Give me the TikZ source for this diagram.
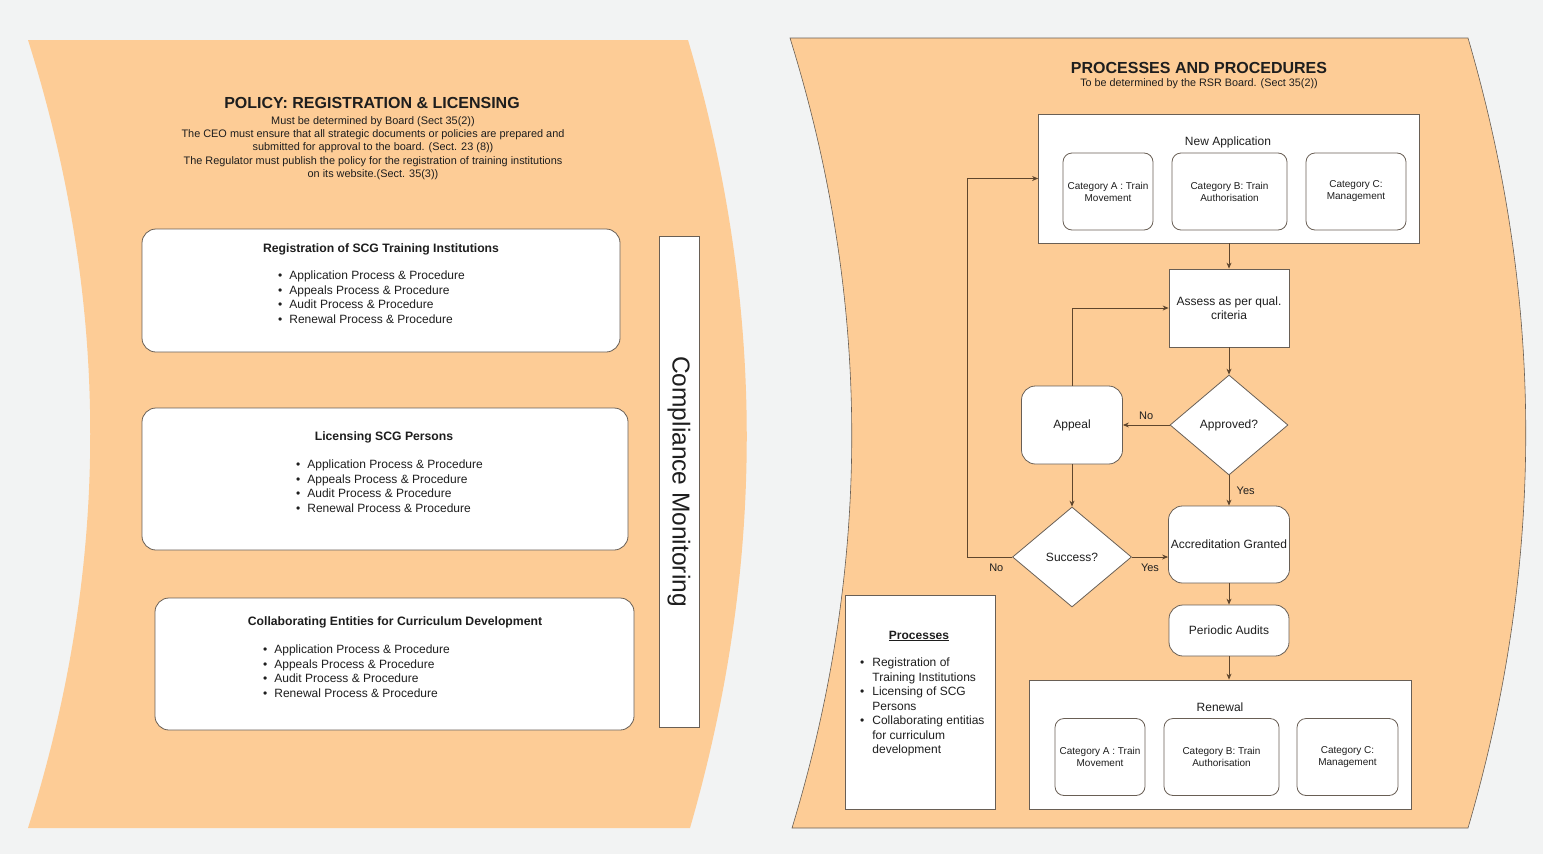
\documentclass[tikz,border=0pt]{standalone}
\usepackage{fontspec}
\setmainfont{Liberation Sans}
\usetikzlibrary{shapes.geometric, arrows.meta}

\definecolor{pageorange}{RGB}{253,204,150}
\definecolor{backgrey}{RGB}{242,243,243}
\definecolor{lineedge}{RGB}{105,95,85}
\definecolor{flowline}{RGB}{95,70,45}
\definecolor{inktext}{RGB}{30,30,30}

\begin{document}
\begin{tikzpicture}[x=1pt, y=-1pt, >={Stealth[length=6pt, width=5pt]},
                every node/.style={font=\fontsize{12}{14.5}\selectfont, text=inktext},
                roundbox/.style={draw=lineedge, line width=0.8pt, fill=white, rounded corners=14pt, inner sep=0pt},
                plainbox/.style={draw=lineedge, line width=0.8pt, fill=white, inner sep=0pt},
                catbox/.style={draw=lineedge, line width=0.8pt, fill=white, rounded corners=9pt, inner sep=0pt,
                               align=center, font=\fontsize{10}{12}\selectfont, minimum height=77pt},
                decision/.style={diamond, draw=lineedge, line width=0.8pt, fill=white, inner sep=0pt,
                                 minimum width=118pt, minimum height=100pt},
                flow/.style={->, draw=flowline, line width=0.8pt},
                flowlabel/.style={font=\fontsize{11}{13}\selectfont},
                bullets/.style={align=left, inner sep=0pt, anchor=west}]

                % Background and the two pages
                \useasboundingbox (0,0) rectangle (1543,854);
                \fill[backgrey] (0,0) rectangle (1543,854);
                \fill[pageorange] (28,40) -- (688,40) .. controls (766,303) and (766,565) .. (690,828)
                        -- (28,828) .. controls (111,565) and (111,303) .. (28,40) -- cycle;
                \filldraw[fill=pageorange, draw=lineedge, line width=0.6pt] (790,38) -- (1468,38)
                        .. controls (1545,301) and (1545,565) .. (1468,828)
                        -- (792,828) .. controls (872,565) and (872,301) .. (790,38) -- cycle;

                % Policy page
                \node[font=\bfseries\fontsize{16}{19}\selectfont] (policytitle) at (372,103) {POLICY: REGISTRATION \& LICENSING};
                \node[font=\fontsize{10.9}{13.2}\selectfont, align=center] (policynote) at (373,148)
                        {Must be determined by Board (Sect 35(2))\\
                         The CEO must ensure that all strategic documents or policies are prepared and\\
                         submitted for approval to the board. (Sect. 23 (8))\\
                         The Regulator must publish the policy for the registration of training institutions\\
                         on its website.(Sect. 35(3))};

                \node[roundbox, minimum width=478pt, minimum height=123pt] (registration) at (381,290.5) {};
                \node[font=\bfseries\fontsize{12.2}{14}\selectfont] (registrationtitle) at (381,249) {Registration of SCG Training Institutions};
                \node[bullets] (registrationlist) at (278,297)
                        {\textbullet\hspace{7pt}Application Process \& Procedure\\
                         \textbullet\hspace{7pt}Appeals Process \& Procedure\\
                         \textbullet\hspace{7pt}Audit Process \& Procedure\\
                         \textbullet\hspace{7pt}Renewal Process \& Procedure};

                \node[roundbox, minimum width=486pt, minimum height=142pt] (licensing) at (385,479) {};
                \node[font=\bfseries\fontsize{12.2}{14}\selectfont] (licensingtitle) at (384,437) {Licensing SCG Persons};
                \node[bullets] (licensinglist) at (296,486)
                        {\textbullet\hspace{7pt}Application Process \& Procedure\\
                         \textbullet\hspace{7pt}Appeals Process \& Procedure\\
                         \textbullet\hspace{7pt}Audit Process \& Procedure\\
                         \textbullet\hspace{7pt}Renewal Process \& Procedure};

                \node[roundbox, minimum width=479pt, minimum height=132pt] (collaborating) at (394.5,664) {};
                \node[font=\bfseries\fontsize{12.2}{14}\selectfont] (collaboratingtitle) at (395,622) {Collaborating Entities for Curriculum Development};
                \node[bullets] (collaboratinglist) at (263,671)
                        {\textbullet\hspace{7pt}Application Process \& Procedure\\
                         \textbullet\hspace{7pt}Appeals Process \& Procedure\\
                         \textbullet\hspace{7pt}Audit Process \& Procedure\\
                         \textbullet\hspace{7pt}Renewal Process \& Procedure};

                \node[plainbox, rotate=-90, minimum width=491pt, minimum height=40pt,
                      font=\fontsize{24.5}{27}\selectfont] (compliance) at (679,481.5) {Compliance Monitoring};

                % Processes page
                \node[font=\bfseries\fontsize{16}{19}\selectfont] (proctitle) at (1199,68) {PROCESSES AND PROCEDURES};
                \node[font=\fontsize{10.8}{12}\selectfont] (procnote) at (1199,84) {To be determined by the RSR Board. (Sect 35(2))};

                \node[plainbox, minimum width=381pt, minimum height=129pt] (newapp) at (1229,178.5) {};
                \node (newapplabel) at (1228,142) {New Application};
                \node[catbox, minimum width=90pt] (newcata) at (1108,191.5) {Category A : Train\\Movement};
                \node[catbox, minimum width=115pt] (newcatb) at (1229.5,191.5) {Category B: Train\\Authorisation};
                \node[catbox, minimum width=100pt] (newcatc) at (1356,191.5) {Category C:\\Management};

                \node[plainbox, minimum width=120pt, minimum height=78pt, align=center] (assess) at (1229,308) {Assess as per qual.\\criteria};
                \node[decision] (approved) at (1229,425) {Approved?};
                \node[roundbox, minimum width=101pt, minimum height=78pt] (appeal) at (1072,425) {Appeal};
                \node[roundbox, minimum width=121pt, minimum height=77pt] (accredited) at (1229,544.5) {Accreditation Granted};
                \node[decision, minimum width=119pt] (success) at (1072,557) {Success?};
                \node[roundbox, minimum width=120pt, minimum height=51pt] (audits) at (1229,630.5) {Periodic Audits};
                \coordinate (loopback) at (967,557);

                \node[plainbox, minimum width=382pt, minimum height=129pt] (renewal) at (1220,744.5) {};
                \node (renewallabel) at (1220,707) {Renewal};
                \node[catbox, minimum width=90pt] (renewcata) at (1100,757) {Category A : Train\\Movement};
                \node[catbox, minimum width=115pt] (renewcatb) at (1221.5,757) {Category B: Train\\Authorisation};
                \node[catbox, minimum width=101pt] (renewcatc) at (1347.5,757) {Category C:\\Management};

                \node[plainbox, minimum width=150pt, minimum height=214pt] (processes) at (920,702) {};
                \node[font=\bfseries\fontsize{12}{14}\selectfont] (processestitle) at (919,636) {\underline{Processes}};
                \node[bullets] (processeslist) at (860,707)
                        {\textbullet\hspace{8pt}Registration of\\
                         \phantom{\textbullet}\hspace{8pt}Training Institutions\\
                         \textbullet\hspace{8pt}Licensing of SCG\\
                         \phantom{\textbullet}\hspace{8pt}Persons\\
                         \textbullet\hspace{8pt}Collaborating entitias\\
                         \phantom{\textbullet}\hspace{8pt}for curriculum\\
                         \phantom{\textbullet}\hspace{8pt}development};

                % Flow
                \draw[flow] (newapp.south) -- (assess.north);
                \draw[flow] (assess.south) -- (approved.north);
                \draw[flow] (approved.west) -- node[flowlabel, above=2pt] {No} (appeal.east);
                \draw[flow] (approved.south) -- node[flowlabel, right=4pt] {Yes} (accredited.north);
                \draw[flow] (appeal.north) |- (assess.west);
                \draw[flow] (appeal.south) -- (success.north);
                \draw[flow] (success.east) -- node[flowlabel, below=3pt] {Yes} (success.east -| accredited.west);
                \draw[flow] (success.west) -- node[flowlabel, below=3pt, pos=0.35] {No} (loopback) |- (newapp.west);
                \draw[flow] (accredited.south) -- (audits.north);
                \draw[flow] (audits.south) -- (audits.south |- renewal.north);
\end{tikzpicture}
\end{document}
